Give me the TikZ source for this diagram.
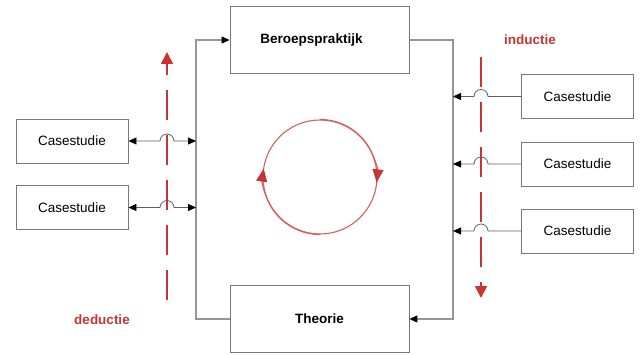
\documentclass[tikz,border=0pt]{standalone}
\usepackage{fontspec}
\setmainfont{Liberation Sans}
\usepackage{tikz}
\usetikzlibrary{positioning,calc,arrows.meta}

\definecolor{linegray}{RGB}{150,150,150}
\definecolor{linkgray}{RGB}{95,95,95}
\definecolor{boxgray}{RGB}{120,120,120}
\definecolor{dashred}{RGB}{200,52,52}
\definecolor{cycred}{RGB}{215,95,95}

\begin{document}
\begin{tikzpicture}[
  x=1pt, y=1pt,
  font=\fontsize{13.5}{16}\selectfont,
  every node/.style={inner sep=0pt},
  box/.style={draw=boxgray, line width=0.9pt, rectangle, minimum height=44pt, minimum width=112pt},
  bigbox/.style={box, minimum height=67pt, minimum width=179pt, font=\fontsize{13.5}{16}\selectfont\bfseries},
  link/.style={draw=linegray, line width=1.1pt},
  caselink/.style={draw=linkgray, line width=0.8pt},
  tip/.style={-{Triangle[length=8pt,width=7pt,color=black]}},
  bothtips/.style={{Triangle[length=8pt,width=7pt,color=black]}-{Triangle[length=8pt,width=7pt,color=black]}},
  redarrow/.style={draw=dashred, line width=1.6pt, dash pattern=on 30pt off 15pt,
    -{Triangle[length=12pt,width=12pt]}},
  redlabel/.style={text=dashred, font=\fontsize{13.5}{16}\selectfont\bfseries},
  cyc/.style={draw=cycred, line width=1.1pt},
]
\useasboundingbox (0,0) rectangle (640,354);

% the two main blocks
\node[bigbox] (prak) at (319.5,314) {\hspace*{-16pt}Beroepspraktijk};
\node[bigbox] (theo) at (319.5,35) {Theorie};

% busses either side
\coordinate (busL) at (196,0);
\coordinate (busR) at (453,0);

% case studies
\node[box] (lc1) at (72,213) {Casestudie};
\node[box] (lc2) at (72,146.5) {Casestudie};
\node[box] (rc1) at (577.5,257.5) {Casestudie};
\node[box] (rc2) at (577.5,190) {Casestudie};
\node[box] (rc3) at (577.5,123) {Casestudie};

% deductie / inductie
\coordinate (dedS) at (167,54);
\coordinate (dedE) at (167,302);
\coordinate (indS) at (481,297);
\coordinate (indE) at (481,56);
\node[redlabel] (ded) at (102,34) {deductie};
\node[redlabel] (ind) at (530,314) {inductie};

% cycle
\node[cyc, circle, minimum size=114pt] (cyc) at (320,177) {};
\draw[cyc, -{Triangle[length=13pt,width=11pt,color=dashred]}]
  (cyc.north) arc[start angle=90, end angle=-6, radius=57];
\draw[cyc, -{Triangle[length=13pt,width=11pt,color=dashred]}]
  (cyc.south) arc[start angle=270, end angle=171, radius=57];

% loop between the blocks
\draw[link, tip] (theo.west) -- (theo.west -| busL) -- (prak.west -| busL) -- (prak.west);
\draw[link, tip] (prak.east) -- (prak.east -| busR) -- (theo.east -| busR) -- (theo.east);

% red dashed arrows
\draw[redarrow] (dedS) -- (dedE);
\draw[redarrow] (indS) -- (indE);

% left links, hopping over the dashed line
\foreach \c in {lc1,lc2}
  \draw[caselink, bothtips]
    (\c.east) -- ($(\c.east -| dedS)+(-7,0)$)
    arc[start angle=180, end angle=0, radius=7]
    -- (\c.east -| busL);

% right links
\foreach \c in {rc1,rc2,rc3}
  \draw[caselink, tip]
    (\c.west) -- ($(\c.west -| indS)+(7,0)$)
    arc[start angle=0, end angle=180, radius=7]
    -- (\c.west -| busR);

\end{tikzpicture}
\end{document}
